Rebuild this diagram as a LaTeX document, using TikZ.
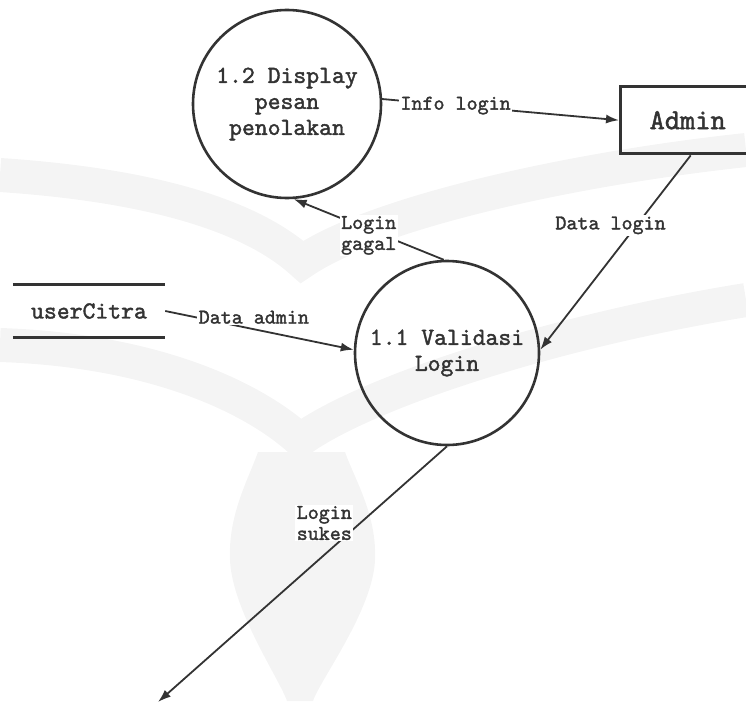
\documentclass[tikz,border=0pt]{standalone}
\usepackage{fontspec}
\newfontfamily\typewriter{lmmono10-regular.otf}[FakeBold=1.6]
\usetikzlibrary{arrows.meta}
\definecolor{ink}{HTML}{333333}
\definecolor{emblemgray}{HTML}{F4F4F4}
\begin{document}
\begin{tikzpicture}[x=1pt,y=-1pt,
  every node/.style={text=ink},
  process/.style={circle,draw=ink,line width=2.6pt,minimum size=#1,inner sep=0pt,
    align=center,font=\typewriter\fontsize{24.5}{26}\selectfont},
  entity/.style={rectangle,draw=ink,line width=3.4pt,inner sep=0pt,
    font=\typewriter\fontsize{29}{30}\selectfont},
  storeline/.style={draw=ink,line width=3.2pt},
  flow/.style={draw=ink,line width=1.8pt,-{Latex[length=13pt,width=9pt]}},
  flowlabel/.style={fill=white,inner sep=1.5pt,align=center,
    font=\typewriter\fontsize{21}{21}\selectfont},
  emblem/.style={draw=emblemgray,line width=34pt,line join=miter,miter limit=20}
]
\useasboundingbox (0,0) rectangle (746,701);

% faint background emblem
\path[emblem] (0,175) .. controls (150,185) and (250,215) .. (302,262)
  .. controls (370,215) and (560,170) .. (746,150);
\path[emblem] (0,345) .. controls (150,350) and (250,395) .. (300,440)
  .. controls (370,390) and (560,330) .. (746,300);
\fill[emblemgray] (258,452) .. controls (248,480) and (228,515) .. (230,560)
  .. controls (232,610) and (280,680) .. (287,701) -- (313,701)
  .. controls (320,680) and (373,610) .. (375,560)
  .. controls (377,515) and (355,480) .. (345,452) -- cycle;

% processes, entity and data store
\node[process=188pt] (p12) at (287,104) {1.2 Display\\pesan\\penolakan};
\node[process=184pt] (p11) at (447,353) {1.1 Validasi\\Login};
\node[entity,minimum width=140pt,minimum height=67pt,anchor=north west] (admin)
  at (619,85) {\hspace*{-6pt}Admin};
\node[minimum width=152pt,minimum height=52pt,inner sep=0pt,
  font=\typewriter\fontsize{24.5}{26}\selectfont] (store) at (89,311) {userCitra};
\path[storeline] (store.north west) -- (store.north east);
\path[storeline] (store.south west) -- (store.south east);
\coordinate (exit) at (158,702);

% data flows
\draw[flow] (p12.3) -- node[flowlabel,pos=0.31] {Info login} (admin.west);
\draw[flow] (admin.south) -- node[flowlabel,pos=0.36,xshift=-26pt] {Data login} (p11.2);
\draw[flow] (p11.92) -- node[flowlabel,pos=0.5,yshift=-6pt] {Login\\gagal} (p12.-86);
\draw[flow] (store.east) -- node[flowlabel,pos=0.47,yshift=12pt] {Data admin} (p11.178);
\draw[flow] (p11.-90) -- node[flowlabel,pos=0.3,xshift=-36pt] {Login\\sukes} (exit);
\end{tikzpicture}
\end{document}
